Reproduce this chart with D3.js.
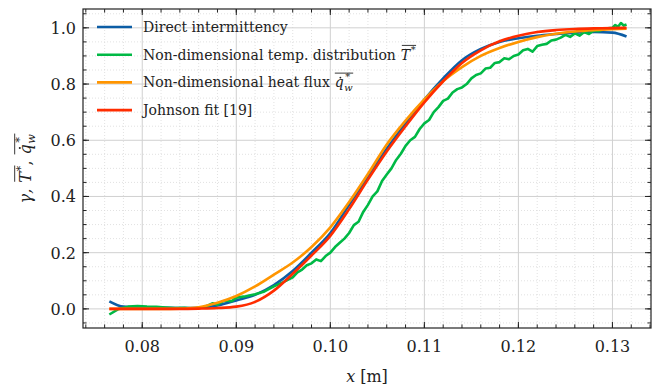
<!DOCTYPE html>
<html>
<head>
<meta charset="utf-8">
<script src="https://cdn.jsdelivr.net/npm/d3@7"></script>
<style>
  body { margin: 0; background: #fff; }
  svg text { font-family: "DejaVu Serif", "Liberation Serif", serif; fill: #222; }
</style>
</head>
<body>
<div id="chart"></div>
<script>
// common x grid for the smooth curves [m]
const xGrid = [0.0765, 0.078, 0.080, 0.082, 0.084, 0.086, 0.088, 0.090, 0.092, 0.094,
  0.096, 0.098, 0.100, 0.102, 0.104, 0.106, 0.108, 0.110, 0.112, 0.114,
  0.116, 0.118, 0.120, 0.122, 0.124, 0.126, 0.128, 0.130, 0.1315];

const gammaDirect = [0.027, 0.008, 0.005, 0.004, 0.003, 0.004, 0.012, 0.030, 0.050, 0.085,
  0.135, 0.200, 0.270, 0.370, 0.470, 0.570, 0.660, 0.745, 0.820, 0.885,
  0.925, 0.950, 0.963, 0.972, 0.978, 0.983, 0.985, 0.983, 0.969];

const heatFlux = [0, 0, 0, 0, 0.001, 0.006, 0.022, 0.046, 0.080, 0.122,
  0.165, 0.220, 0.290, 0.380, 0.480, 0.585, 0.670, 0.745, 0.810, 0.860,
  0.900, 0.928, 0.950, 0.967, 0.979, 0.987, 0.992, 0.995, 0.997];

const johnson = [0, 0, 0, 0, 0, 0.001, 0.003, 0.008, 0.025, 0.065,
  0.125, 0.190, 0.260, 0.355, 0.460, 0.560, 0.650, 0.735, 0.810, 0.875,
  0.920, 0.952, 0.972, 0.985, 0.992, 0.996, 0.998, 0.999, 1.0];

// temperature distribution (noisy, own x samples)
const xTemp = [0.0765, 0.0775, 0.0785, 0.0795, 0.0805, 0.0815, 0.0825, 0.0835, 0.0845, 0.0855,
  0.0865, 0.0870, 0.0875, 0.0880, 0.0885, 0.0890, 0.0895, 0.0900, 0.0910, 0.0920,
  0.0930, 0.0940, 0.0950, 0.0960, 0.0965, 0.0970, 0.0975, 0.0980, 0.0985, 0.0990,
  0.0995, 0.1000, 0.1005, 0.1010, 0.1015, 0.1020, 0.1025, 0.1030, 0.1035, 0.1040,
  0.1045, 0.1050, 0.1055, 0.1060, 0.1065, 0.1070, 0.1075, 0.1080, 0.1085, 0.1090,
  0.1095, 0.1100, 0.1105, 0.1110, 0.1115, 0.1120, 0.1125, 0.1130, 0.1135, 0.1140,
  0.1145, 0.1150, 0.1155, 0.1160, 0.1165, 0.1170, 0.1175, 0.1180, 0.1185, 0.1190,
  0.1195, 0.1200, 0.1205, 0.1210, 0.1215, 0.1220, 0.1225, 0.1230, 0.1235, 0.1240,
  0.1245, 0.1250, 0.1255, 0.1260, 0.1265, 0.1270, 0.1275, 0.1280, 0.1285, 0.1290,
  0.1295, 0.1300, 0.1303, 0.1306, 0.1309, 0.1312, 0.1315];
const tempDist = [-0.020, 0.000, 0.008, 0.010, 0.008, 0.007, 0.005, 0.003, 0.004, 0.001,
  0.006, 0.012, 0.020, 0.015, 0.026, 0.030, 0.027, 0.040, 0.045, 0.052,
  0.062, 0.080, 0.095, 0.112, 0.130, 0.140, 0.155, 0.162, 0.176, 0.170,
  0.188, 0.200, 0.220, 0.235, 0.250, 0.270, 0.298, 0.310, 0.345, 0.370,
  0.400, 0.418, 0.455, 0.478, 0.500, 0.530, 0.552, 0.580, 0.600, 0.612,
  0.640, 0.660, 0.672, 0.700, 0.718, 0.740, 0.748, 0.770, 0.782, 0.788,
  0.800, 0.820, 0.832, 0.838, 0.855, 0.858, 0.875, 0.878, 0.892, 0.888,
  0.900, 0.905, 0.920, 0.925, 0.915, 0.935, 0.940, 0.943, 0.955, 0.958,
  0.965, 0.975, 0.968, 0.980, 0.972, 0.985, 0.978, 0.990, 0.988, 0.995,
  0.998, 1.000, 1.010, 1.004, 1.017, 1.008, 1.012];

const xTicks = [0.08, 0.09, 0.10, 0.11, 0.12, 0.13];
const yTicks = [0.0, 0.2, 0.4, 0.6, 0.8, 1.0];

const width = 671, height = 387;
const margin = { top: 9, right: 20, bottom: 59, left: 83 };
const innerW = width - margin.left - margin.right;
const innerH = height - margin.top - margin.bottom;

const svg = d3.select('#chart').append('svg')
  .attr('width', width)
  .attr('height', height);

const x = d3.scaleLinear().domain([0.0737, 0.1341]).range([margin.left, margin.left + innerW]);
const y = d3.scaleLinear().domain([-0.068, 1.067]).range([margin.top + innerH, margin.top]);

const L = margin.left, R = margin.left + innerW, T = margin.top, B = margin.top + innerH;

// minor / major grid
const xMinor = d3.range(0.074, 0.1341, 0.002).filter(v => !xTicks.some(t => Math.abs(t - v) < 1e-6));
const yMinor = d3.range(-0.05, 1.07, 0.05).filter(v => !yTicks.some(t => Math.abs(t - v) < 1e-6));

const grid = svg.append('g');
grid.selectAll('.xmin').data(xMinor).enter().append('line')
  .attr('x1', d => x(d)).attr('x2', d => x(d)).attr('y1', T).attr('y2', B)
  .attr('stroke', '#d9d9d9').attr('stroke-width', 0.8).attr('stroke-dasharray', '1,2');
grid.selectAll('.ymin').data(yMinor).enter().append('line')
  .attr('y1', d => y(d)).attr('y2', d => y(d)).attr('x1', L).attr('x2', R)
  .attr('stroke', '#d9d9d9').attr('stroke-width', 0.8).attr('stroke-dasharray', '1,2');
grid.selectAll('.xmaj').data(xTicks).enter().append('line')
  .attr('x1', d => x(d)).attr('x2', d => x(d)).attr('y1', T).attr('y2', B)
  .attr('stroke', '#d0d0d0').attr('stroke-width', 1);
grid.selectAll('.ymaj').data(yTicks).enter().append('line')
  .attr('y1', d => y(d)).attr('y2', d => y(d)).attr('x1', L).attr('x2', R)
  .attr('stroke', '#d0d0d0').attr('stroke-width', 1);

// curves
const colors = { blue: '#0C5DA5', green: '#00B945', orange: '#FF9500', red: '#FF2C00' };
const smooth = d3.line().x(d => x(d[0])).y(d => y(d[1])).curve(d3.curveMonotoneX);
const raw = d3.line().x(d => x(d[0])).y(d => y(d[1]));

const plot = svg.append('g');
plot.append('path').datum(d3.zip(xGrid, gammaDirect))
  .attr('d', smooth).attr('fill', 'none').attr('stroke', colors.blue).attr('stroke-width', 2.6);
plot.append('path').datum(d3.zip(xTemp, tempDist))
  .attr('d', raw).attr('fill', 'none').attr('stroke', colors.green).attr('stroke-width', 2.6)
  .attr('stroke-linejoin', 'round');
plot.append('path').datum(d3.zip(xGrid, heatFlux))
  .attr('d', smooth).attr('fill', 'none').attr('stroke', colors.orange).attr('stroke-width', 2.6);
plot.append('path').datum(d3.zip(xGrid, johnson))
  .attr('d', smooth).attr('fill', 'none').attr('stroke', colors.red).attr('stroke-width', 2.6);

// frame and inward ticks on all sides
svg.append('rect').attr('x', L).attr('y', T).attr('width', innerW).attr('height', innerH)
  .attr('fill', 'none').attr('stroke', '#222').attr('stroke-width', 1.2);

const ticks = svg.append('g').attr('stroke', '#222').attr('stroke-width', 1);
const xMinorAll = d3.range(0.074, 0.1341, 0.002);
const yMinorAll = d3.range(-0.05, 1.07, 0.05);
[[B, -1], [T, 1]].forEach(([yy, dir]) => {
  ticks.selectAll(null).data(xTicks).enter().append('line')
    .attr('x1', d => x(d)).attr('x2', d => x(d)).attr('y1', yy).attr('y2', yy + dir * 6);
  ticks.selectAll(null).data(xMinorAll).enter().append('line')
    .attr('x1', d => x(d)).attr('x2', d => x(d)).attr('y1', yy).attr('y2', yy + dir * 3.5);
});
[[L, 1], [R, -1]].forEach(([xx, dir]) => {
  ticks.selectAll(null).data(yTicks).enter().append('line')
    .attr('y1', d => y(d)).attr('y2', d => y(d)).attr('x1', xx).attr('x2', xx + dir * 6);
  ticks.selectAll(null).data(yMinorAll).enter().append('line')
    .attr('y1', d => y(d)).attr('y2', d => y(d)).attr('x1', xx).attr('x2', xx + dir * 3.5);
});

// tick labels
svg.append('g').selectAll('text').data(xTicks).enter().append('text')
  .attr('x', d => x(d)).attr('y', B + 24)
  .attr('text-anchor', 'middle').style('font-size', '16px')
  .text(d => d3.format('.2f')(d));
svg.append('g').selectAll('text').data(yTicks).enter().append('text')
  .attr('x', L - 7).attr('y', d => y(d) + 6)
  .attr('text-anchor', 'end').style('font-size', '16px')
  .text(d => d3.format('.1f')(d));

// helper for pieces of math text laid out left to right
function piece(g, px, py, str, size, italic) {
  const t = g.append('text').attr('x', px).attr('y', py)
    .style('font-size', size + 'px')
    .style('font-style', italic ? 'italic' : 'normal')
    .text(str);
  return t.node().getComputedTextLength();
}
// \overline{T^*}
function tStar(g, px, py, size) {
  const w1 = piece(g, px, py, 'T', size, true);
  const w2 = piece(g, px + w1 + 0.5, py - size * 0.45, '*', size * 0.7, false);
  g.append('line').attr('x1', px + 1).attr('x2', px + w1 + w2 + 1)
    .attr('y1', py - size * 1.02).attr('y2', py - size * 1.02)
    .attr('stroke', '#222').attr('stroke-width', 0.9);
  return w1 + w2 + 1;
}
// \overline{\dot{q}_w^*}
function qStar(g, px, py, size) {
  const w1 = piece(g, px, py, 'q', size, true);
  g.append('circle').attr('cx', px + w1 * 0.62).attr('cy', py - size * 0.7)
    .attr('r', size * 0.065).attr('fill', '#222');
  const w2 = piece(g, px + w1 + 0.5, py + size * 0.28, 'w', size * 0.7, true);
  piece(g, px + w1 + 1.5, py - size * 0.5, '*', size * 0.7, false);
  g.append('line').attr('x1', px).attr('x2', px + w1 + w2 + 1)
    .attr('y1', py - size * 1.02).attr('y2', py - size * 1.02)
    .attr('stroke', '#222').attr('stroke-width', 0.9);
  return w1 + w2 + 1;
}

// legend
const legend = svg.append('g');
const rows = [
  { color: colors.blue, label: 'Direct intermittency', math: null },
  { color: colors.green, label: 'Non-dimensional temp. distribution', math: tStar },
  { color: colors.orange, label: 'Non-dimensional heat flux', math: qStar },
  { color: colors.red, label: 'Johnson fit [19]', math: null }
];
rows.forEach((r, i) => {
  const cy = 27 + i * 27.7;
  legend.append('line').attr('x1', 97).attr('x2', 132).attr('y1', cy).attr('y2', cy)
    .attr('stroke', r.color).attr('stroke-width', 2.6);
  const w = piece(legend, 143, cy + 5, r.label, 14, false);
  if (r.math) r.math(legend, 143 + w + 5, cy + 5, 14);
});

// axis titles
const xl = svg.append('g');
const wx = piece(xl, 0, 0, 'x', 16, true);
const wm = piece(xl, wx + 5, 0, '[m]', 16, false);
xl.attr('transform', `translate(${(L + R) / 2 - (wx + 5 + wm) / 2},${height - 5})`);

const yl = svg.append('g');
let cx = 0;
cx += piece(yl, cx, 0, 'γ,', 16, true) + 6;
cx += tStar(yl, cx, 0, 16);
cx += piece(yl, cx, 0, ',', 16, false) + 6;
cx += qStar(yl, cx, 0, 16);
yl.attr('transform', `translate(31,${(T + B) / 2 + cx / 2}) rotate(-90)`);
</script>
</body>
</html>
